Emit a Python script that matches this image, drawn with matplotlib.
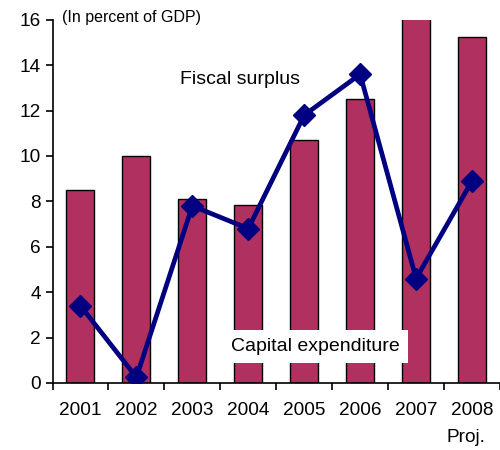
import matplotlib.pyplot as plt
import numpy as np

plt.rcParams['font.family'] = ['Liberation Sans', 'DejaVu Sans']

years = ['2001', '2002', '2003', '2004', '2005', '2006', '2007', '2008']
capital_expenditure = [8.5, 10.0, 8.1, 7.85, 10.7, 12.5, 16.5, 15.25]
fiscal_surplus = [3.4, 0.25, 7.8, 6.8, 11.8, 13.6, 4.6, 8.9]

fig = plt.figure(figsize=(5, 4.5), dpi=100)
ax = fig.add_axes([0.105, 0.149, 0.895, 0.807])

x = np.arange(len(years))
ax.bar(x, capital_expenditure, width=0.5, color='#B03060', edgecolor='black',
       linewidth=1, zorder=2)
ax.plot(x, fiscal_surplus, color='#000080', linewidth=3.4, marker='D',
        markersize=11, zorder=3)

ax.set_xlim(-0.5, 7.5)
ax.set_ylim(0, 16)
ax.set_yticks(range(0, 17, 2))
ax.set_xticks(x)
ax.set_xticklabels(years, fontsize=13.7)
ax.set_xticks(np.arange(-0.5, 8, 1), minor=True)
ax.tick_params(axis='x', which='major', length=0, pad=14)
ax.tick_params(axis='x', which='minor', length=5, width=1.2, direction='out')
ax.tick_params(axis='y', labelsize=13.7, length=5, width=1.2, direction='out')
for s in ['top', 'right']:
    ax.spines[s].set_visible(False)
for s in ['left', 'bottom']:
    ax.spines[s].set_linewidth(1.2)

ax.text(2.85, 13.35, 'Fiscal surplus', fontsize=14, ha='center', va='center')
ax.text(4.2, 1.6, 'Capital expenditure', fontsize=14, ha='center', va='center',
        bbox=dict(facecolor='white', edgecolor='none', pad=6), zorder=4)
fig.text(0.125, 0.962, '(In percent of GDP)', fontsize=11.5, ha='left', va='center')
fig.text(0.97, 0.028, 'Proj.', fontsize=13.7, ha='right', va='center')

plt.savefig('out.png')
